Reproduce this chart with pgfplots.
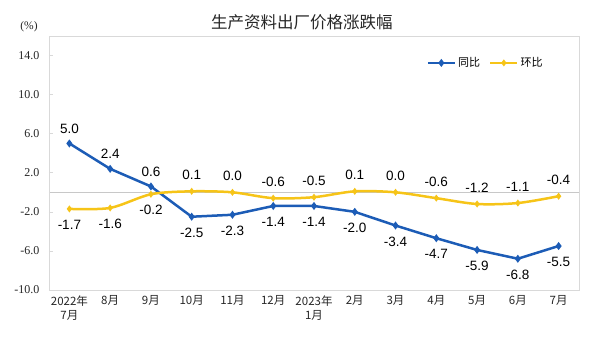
\documentclass[border=0pt]{standalone}
\usepackage{pgfplots}
\usepackage{pgfplotstable}
\pgfplotsset{compat=1.18}
\usepackage{fontspec}
\setmainfont{Liberation Serif}
\newfontfamily\cjk{Noto Sans CJK SC}
\newfontfamily\arial{Liberation Sans}
\definecolor{tbblue}{RGB}{28,92,182}
\definecolor{tbyellow}{RGB}{246,196,24}
\definecolor{boxgray}{RGB}{217,217,217}
\definecolor{zerogray}{RGB}{200,200,200}

\pgfplotstableread{
x yoy mom
0 5.0 -1.7
1 2.4 -1.6
2 0.6 -0.2
3 -2.5 0.1
4 -2.3 0.0
5 -1.4 -0.6
6 -1.4 -0.5
7 -2.0 0.1
8 -3.4 0.0
9 -4.7 -0.6
10 -5.9 -1.2
11 -6.8 -1.1
12 -5.5 -0.4
}\data

\begin{document}
\begin{tikzpicture}
% zero line with boundary ticks
\begin{axis}[
  scale only axis, width=530pt, height=254pt,
  xmin=-0.5, xmax=12.5, ymin=-10, ymax=16,
  axis x line=middle, axis y line=none,
  axis line style={zerogray, -, line width=0.8pt},
  xtick=\empty, minor xtick={0.5,1.5,...,11.5},
  minor tick length=3pt,
  tick style={zerogray, line width=0.6pt},
  xtick align=inside,
]
\end{axis}
\begin{axis}[
  name=ax,
  scale only axis, width=530pt, height=254pt,
  xmin=-0.5, xmax=12.5, ymin=-10, ymax=16,
  clip=false,
  axis line style={boxgray, line width=0.8pt},
  ytick={-10,-6,-2,2,6,10,14},
  ytick pos=left,
  ytick style={boxgray, line width=0.6pt},
  major tick length=4pt,
  xtick={0,...,12},
  xtick style={draw=none},
  xticklabels={{2022年\\7月},8月,9月,10月,11月,12月,{2023年\\1月},2月,3月,4月,5月,6月,7月},
  xticklabel style={font=\cjk\fontsize{11.5}{14}\selectfont, align=center, anchor=north, yshift=-2pt, text=black!85},
  yticklabel style={font=\fontsize{12}{14}\selectfont, text=black!85, xshift=-6pt},
  /pgf/number format/fixed,
  /pgf/number format/fixed zerofill,
  /pgf/number format/precision=1,
  /pgf/number format/assume math mode=true,
  legend style={at={(rel axis cs:0.712,0.894)}, anchor=west, draw=none, fill=none,
    font=\cjk\fontsize{11}{12}\selectfont, inner sep=0pt,
    /tikz/every even column/.append style={column sep=7pt}},
  legend columns=2,
  legend cell align=left,
  legend image code/.code={\draw[#1, mark repeat=2, mark phase=2] plot coordinates {(0pt,0pt) (13.5pt,0pt) (27pt,0pt)};},
  every node near coord/.append style={font=\arial\fontsize{13.5}{15}\selectfont, text=black, anchor=center},
]
\addplot[tbblue, line width=2.5pt, mark=diamond*, mark size=2pt, mark options={solid}] table[x=x, y=yoy] {\data};
\addlegendentry{同比}
\addplot[tbyellow, line width=2.5pt, smooth, tension=0.5, mark=diamond*, mark size=1.5pt] table[x=x, y=mom] {\data};
\addlegendentry{环比}
% data labels
\addplot[draw=none, mark=none, restrict x to domain=0:2, nodes near coords, every node near coord/.append style={yshift=15pt}, forget plot] table[x=x, y=yoy] {\data};
\addplot[draw=none, mark=none, restrict x to domain=3:12, nodes near coords, every node near coord/.append style={yshift=-16pt}, forget plot] table[x=x, y=yoy] {\data};
\addplot[draw=none, mark=none, restrict x to domain=0:2, nodes near coords, every node near coord/.append style={yshift=-16pt}, forget plot] table[x=x, y=mom] {\data};
\addplot[draw=none, mark=none, restrict x to domain=3:12, nodes near coords, every node near coord/.append style={yshift=16pt}, forget plot] table[x=x, y=mom] {\data};
% title and unit
\node[font=\cjk\fontsize{16.5}{18}\selectfont, text=black!85] at ([yshift=14pt]rel axis cs:0.477,1) {生产资料出厂价格涨跌幅};
\node[font=\fontsize{11.5}{13}\selectfont, text=black!85] at ([xshift=-20pt, yshift=9pt]rel axis cs:0,1) {(\%)};
% bounding box
\path ([xshift=-49pt, yshift=-48pt]rel axis cs:0,0) rectangle ([xshift=31pt, yshift=36pt]rel axis cs:1,1);
\end{axis}
\end{tikzpicture}
\end{document}
